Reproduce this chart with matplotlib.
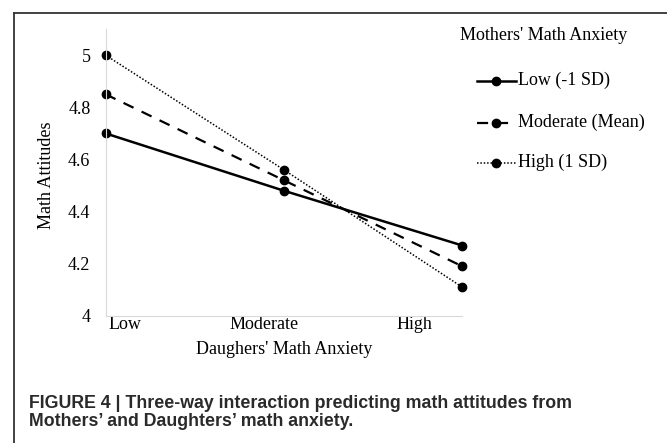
import matplotlib
matplotlib.use("Agg")
import matplotlib.pyplot as plt
from matplotlib.lines import Line2D

categories = ["Low", "Moderate", "High"]
series_names = ["Low (-1 SD)", "Moderate (Mean)", "High (1 SD)"]
low_sd = [4.70, 4.48, 4.27]
mean_sd = [4.85, 4.52, 4.19]
high_sd = [5.00, 4.56, 4.11]
y_ticks = [4, 4.2, 4.4, 4.6, 4.8, 5]
y_tick_labels = ["4", "4.2", "4.4", "4.6", "4.8", "5"]

serif = ["Liberation Serif", "DejaVu Serif"]
plt.rcParams["font.family"] = serif

fig = plt.figure(figsize=(6.67, 4.43), dpi=100)
ax = fig.add_axes([105.5 / 667, 1 - 316 / 443, 357 / 667, 287 / 443])

xs = list(range(len(categories)))
styles = [dict(ls="-", lw=1.8), dict(ls=(0, (5, 4)), lw=1.6), dict(ls=(0, (1, 1.2)), lw=1.1)]
for vals, name, st in zip([low_sd, mean_sd, high_sd], series_names, styles):
    ax.plot(xs, vals, color="black", marker="o", ms=6, clip_on=False, **st)

ax.set_xlim(0, 2)
ax.set_ylim(4, 5.1)
ax.set_yticks(y_ticks)
ax.set_yticklabels(y_tick_labels, fontsize=13)
ax.tick_params(axis="y", length=0, pad=10.8)
# category labels (Excel-like placement offset from points)
label_pos = [0.11, 0.89, 1.73]
ax.set_xticks(label_pos)
ax.set_xticklabels(categories, fontsize=13)
ax.tick_params(axis="x", length=0, pad=0)
for s in ["top", "right"]:
    ax.spines[s].set_visible(False)
ax.spines["left"].set_color("#d9d9d9")
ax.spines["bottom"].set_color("#d9d9d9")
ax.set_ylabel("Math Attitudes", fontsize=13)
ax.set_xlabel("Daughers' Math Anxiety", fontsize=13, labelpad=6)
ax.yaxis.set_label_coords(-0.142, 0.49)

# legend
fig.text(459.6 / 667, 1 - 35 / 443, "Mothers' Math Anxiety", fontsize=13, va="center", ha="left")
leg_y = [80.7, 122.7, 162.7]
for name, st, ly in zip(series_names, styles, leg_y):
    yy = 1 - ly / 443
    fig.add_artist(Line2D([476.6 / 667, 515.7 / 667], [yy, yy], color="black", **st))
    fig.add_artist(Line2D([496 / 667], [yy], color="black", marker="o", ms=6, ls="none"))
    fig.text(518 / 667, yy, name, fontsize=13, va="center", ha="left")

# frame
fig.add_artist(Line2D([14 / 667, 14 / 667], [0, 1 - 13 / 443], color="#333333", lw=1.3))
fig.add_artist(Line2D([14 / 667, 1], [1 - 13 / 443, 1 - 13 / 443], color="#333333", lw=1.3))

cap_lines = ["FIGURE 4 | Three-way interaction predicting math attitudes from",
             "Mothers\u2019 and Daughters\u2019 math anxiety."]
for line, cy in zip(cap_lines, [402, 419]):
    fig.text(29 / 667, 1 - cy / 443, line, fontsize=12.8, fontweight="bold", color="#2a2a2a",
             family=["Liberation Sans", "DejaVu Sans"], va="center_baseline", ha="left")

fig.savefig("out.png", dpi=100)
